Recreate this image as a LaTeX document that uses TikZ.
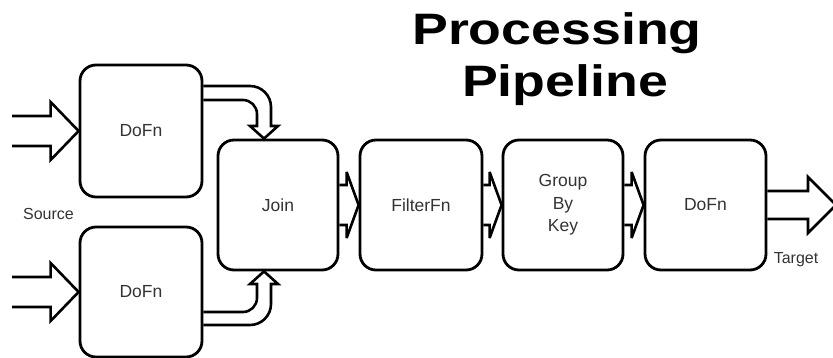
\documentclass[tikz,border=0pt]{standalone}
\usepackage{fontspec}
\usepackage{graphicx}
\setmainfont{Liberation Sans}
\usetikzlibrary{calc}
\newcommand\fatarr[5]{% #1 start, #2 tip, #3 shaft half, #4 head half, #5 head length
  \draw[fat] ($(#1)+(0,-#3)$) -- ($(#2)+(-#5,-#3)$) -- ($(#2)+(-#5,-#4)$) -- (#2)
    -- ($(#2)+(-#5,#4)$) -- ($(#2)+(-#5,#3)$) -- ($(#1)+(0,#3)$);}
\begin{document}
\begin{tikzpicture}[x=1pt,y=-1pt,
  box/.style={draw, line width=2.8pt, rounded corners=16pt, minimum width=122pt,
    minimum height=130pt, inner sep=0pt, align=center,
    font=\fontsize{17.5}{22.5}\selectfont, text=black!80},
  fat/.style={draw, line width=2.6pt, line join=miter, miter limit=5},
  lbl/.style={font=\fontsize{16}{19}\selectfont, inner sep=0pt, anchor=base, text=black!80},
  ttl/.style={font=\fontsize{44}{44}\selectfont\bfseries, inner sep=0pt, anchor=base}]
\useasboundingbox (0,0) rectangle (833,358);
% title
\node[ttl] (t1) at (557,45) {\scalebox{1.22}[1]{Processing}};
\node[ttl] (t2) at (565,97) {\scalebox{1.22}[1]{Pipeline}};
% boxes
\node[box, minimum height=132pt] (dA) at (141,131) {DoFn};
\node[box] (dB) at (141,292) {DoFn};
\node[box, minimum width=120pt] (join) at (278,205) {Join};
\node[box] (filt) at (421,205) {FilterFn};
\node[box, minimum width=120pt] (gbk) at (563,205) {Group\\By\\Key};
\node[box, minimum width=121pt] (dC) at (705.5,205) {DoFn};
% labels
\node[lbl] (src) at (48.5,220) {Source};
\node[lbl] (tgt) at (796,264) {Target};
% free ends
\coordinate (srcA) at (12,131);
\coordinate (srcB) at (12,292);
\coordinate (tend) at (836,205);
\coordinate (jtA) at (join.north -| 264,0);
\coordinate (jtB) at (join.south -| 264,0);
% source arrows
\fatarr{srcA}{dA.west}{15}{29}{28}
\fatarr{srcB}{dB.west}{15}{29}{28}
% pipeline arrows
\fatarr{join.east}{filt.west}{20}{33}{12}
\fatarr{filt.east}{gbk.west}{20}{33}{12}
\fatarr{gbk.east}{dC.west}{20}{33}{12}
\fatarr{dC.east}{tend}{14}{28}{28}
% curved arrows into Join
\draw[fat] (dA.east |- 0,86) -- (250,86) .. controls (261.6,86) and (271,95.4) .. (271,107)
  -- (271,126) -- (278,126) -- (jtA) -- (250,126) -- (257,126) -- (257,114)
  .. controls (257,106.3) and (250.7,100) .. (243,100) -- (dA.east |- 0,100);
\draw[fat] (dB.east |- 0,325) -- (250,325) .. controls (261.6,325) and (271,315.6) .. (271,304)
  -- (271,284) -- (278,284) -- (jtB) -- (250,284) -- (257,284) -- (257,298)
  .. controls (257,305.7) and (250.7,312) .. (243,312) -- (dB.east |- 0,312);
\end{tikzpicture}
\end{document}
